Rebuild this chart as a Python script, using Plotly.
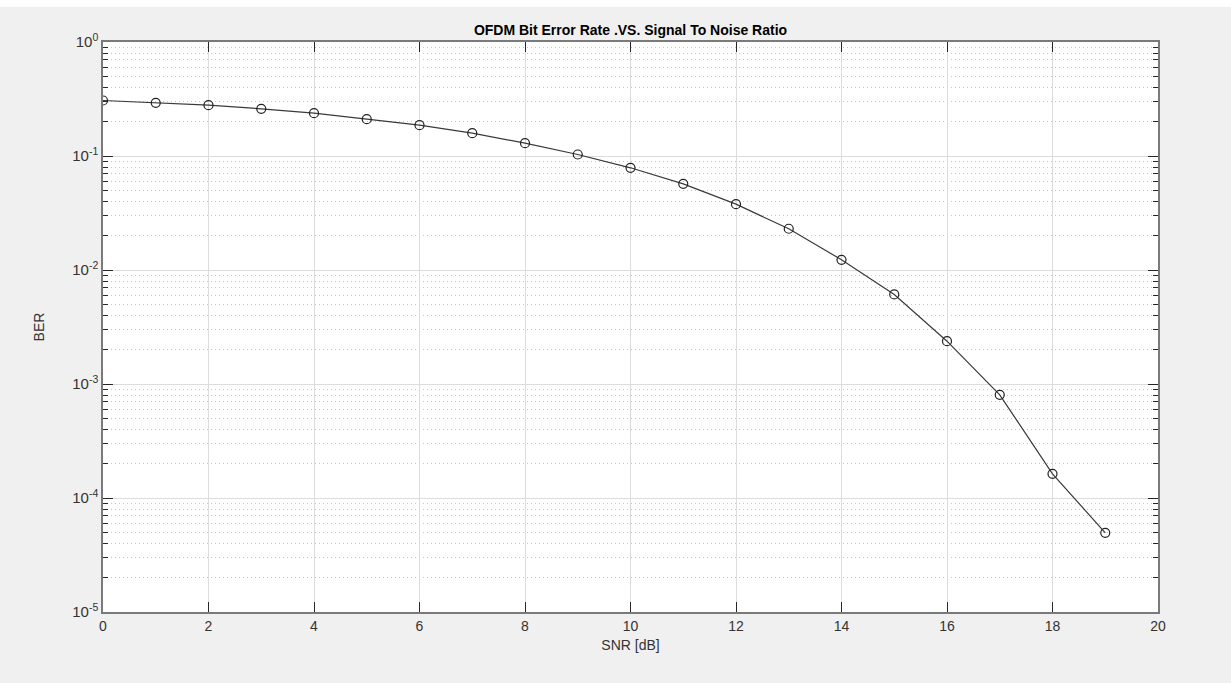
import plotly.graph_objects as go

snr_db = list(range(20))
ber = [0.3067, 0.2929, 0.2790, 0.2594, 0.2373, 0.2103, 0.1863, 0.1585, 0.1295, 0.1031,
       0.0788, 0.0570, 0.0378, 0.0230, 0.01229, 0.00610, 0.002374, 0.000804, 0.000163, 4.95e-5]

x_ticks = [0, 2, 4, 6, 8, 10, 12, 14, 16, 18, 20]
y_tick_vals = [1e0, 1e-1, 1e-2, 1e-3, 1e-4, 1e-5]
y_tick_text = ["10<sup>0</sup>", "10<sup>-1</sup>", "10<sup>-2</sup>", "10<sup>-3</sup>",
               "10<sup>-4</sup>", "10<sup>-5</sup>"]

font_family = "Liberation Sans, Arial, Helvetica, sans-serif"
text_col = "#333333"

fig = go.Figure()
fig.add_trace(go.Scatter(
    x=snr_db, y=ber, mode="lines+markers",
    line=dict(color="#3a3a3a", width=1.2),
    marker=dict(symbol="circle-open", size=9, color="#222222", line=dict(width=1.2)),
    showlegend=False,
))

# thin white strip along the very top of the image
fig.add_shape(type="rect", xref="paper", yref="paper",
              x0=-0.2, x1=1.2, y0=1 + 35 / 570, y1=1 + 45 / 570,
              fillcolor="#ffffff", line=dict(width=0), layer="below")

fig.update_layout(
    width=1231, height=683,
    margin=dict(l=103, r=73, t=42, b=71),
    paper_bgcolor="#f0f0f0",
    plot_bgcolor="#ffffff",
    font=dict(family=font_family, size=14, color=text_col),
    title=dict(text="<b>OFDM Bit Error Rate .VS. Signal To Noise Ratio</b>",
               x=0.5, xref="paper", xanchor="center",
               y=1 - 30 / 683, yref="container", yanchor="middle",
               font=dict(size=14, color="#000000")),
    xaxis=dict(
        range=[0, 20], tickvals=x_ticks, ticktext=[str(v) for v in x_ticks],
        tickfont=dict(size=14, color=text_col),
        showgrid=True, gridcolor="#dcdcdc", gridwidth=1,
        showline=True, linecolor="#7a7a7a", linewidth=1.5, mirror="ticks",
        ticks="inside", ticklen=10, tickcolor="#262626", tickwidth=1,
        zeroline=False,
        title=dict(text="SNR [dB]", standoff=8, font=dict(size=14, color=text_col)),
    ),
    yaxis=dict(
        type="log", range=[-5, 0], tickvals=y_tick_vals, ticktext=y_tick_text,
        tickfont=dict(size=15, color=text_col),
        showgrid=True, gridcolor="#dcdcdc", gridwidth=1,
        showline=True, linecolor="#7a7a7a", linewidth=1.5, mirror="ticks",
        ticks="inside", ticklen=10, tickcolor="#262626", tickwidth=1,
        zeroline=False,
        minor=dict(ticks="inside", ticklen=5, tickcolor="#262626", dtick="D1",
                   showgrid=True, gridcolor="#c4c4c4", griddash="1px,3px", gridwidth=1),
        title=dict(text="BER", standoff=24, font=dict(size=14, color=text_col)),
    ),
)

fig.write_html("out.html")
